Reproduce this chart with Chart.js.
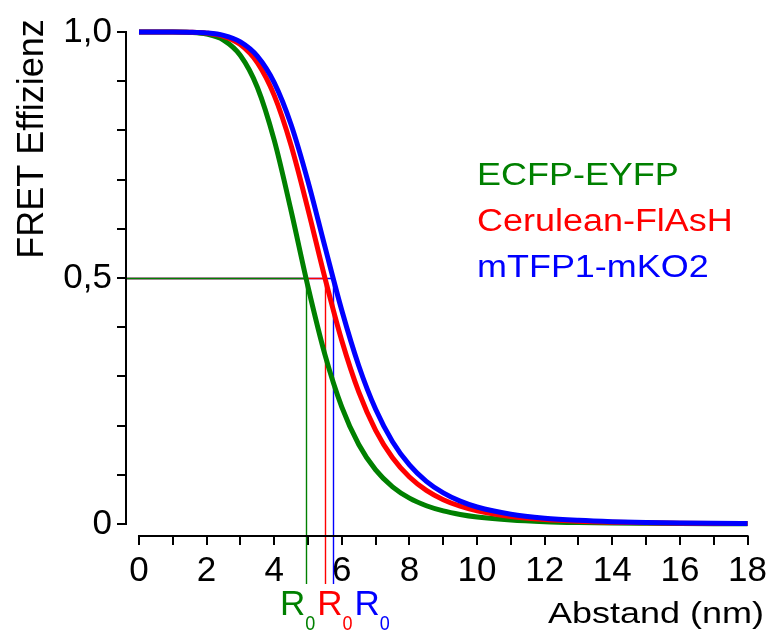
<!DOCTYPE html>
<html lang="de">
<head>
<meta charset="UTF-8" />
<title>FRET Effizienz</title>
<style>
  html, body { margin: 0; padding: 0; background: #fff; }
  canvas { display: block; }
</style>
</head>
<body>
<canvas id="fretChart" width="772" height="637"></canvas>

<script src="https://cdn.jsdelivr.net/npm/chart.js"></script>
<script>
  // Abstand in nm
  const distances = [0, 0.5, 1, 1.5, 2, 2.5, 3, 3.5, 4, 4.5, 5, 5.5, 6, 6.5, 7, 7.5, 8, 8.5, 9, 9.5, 10,
                     11, 12, 13, 14, 15, 16, 17, 18];

  // FRET efficiency
  const ecfpEyfp = [1, 1, 1, 0.9992, 0.9956, 0.9835, 0.9522, 0.8877, 0.7801, 0.6364, 0.4819, 0.3443,
                    0.2375, 0.1616, 0.1099, 0.0755, 0.0525, 0.0371, 0.0266, 0.0194, 0.0143,
                    0.0081, 0.0048, 0.0030, 0.0019, 0.0013, 0.0009, 0.0006, 0.0004];
  const ceruleanFlash = [1, 1, 1, 0.9996, 0.9977, 0.9913, 0.9743, 0.9377, 0.8711, 0.7693, 0.6392, 0.5,
                         0.3724, 0.2685, 0.1905, 0.1346, 0.0955, 0.0684, 0.0495, 0.0363, 0.0269,
                         0.0154, 0.0092, 0.0057, 0.0037, 0.0024, 0.0016, 0.0011, 0.0008];
  const mtfpMko2 = [1, 1, 1, 0.9997, 0.9982, 0.9932, 0.98, 0.9511, 0.8972, 0.8116, 0.696, 0.5637,
                    0.4339, 0.3217, 0.2331, 0.1673, 0.1201, 0.0866, 0.0631, 0.0464, 0.0345,
                    0.0198, 0.0118, 0.0074, 0.0047, 0.0031, 0.0021, 0.0015, 0.0011];

  const seriesNames = ['ECFP-EYFP', 'Cerulean-FlAsH', 'mTFP1-mKO2'];
  const seriesColors = ['#008000', '#ff0000', '#0000ff'];
  const r0Values = [4.94, 5.50, 5.74];

  const xTicks = [0, 1, 2, 3, 4, 5, 6, 7, 8, 9, 10, 11, 12, 13, 14, 15, 16, 17, 18];
  const xTickLabels = ['0', '', '2', '', '4', '', '6', '', '8', '', '10', '', '12', '', '14', '', '16', '', '18'];
  const yTicks = [0, 0.1, 0.2, 0.3, 0.4, 0.5, 0.6, 0.7, 0.8, 0.9, 1];
  const yTickLabels = ['0', '', '', '', '', '0,5', '', '', '', '', '1,0'];

  const FONT = "'Liberation Sans', Arial, Helvetica, sans-serif";

  function toPoints(ys) {
    return distances.map((d, i) => ({ x: d, y: ys[i] }));
  }

  // draws text, optionally stretched horizontally
  function drawText(ctx, text, x, y, size, color, align, sx) {
    ctx.save();
    ctx.translate(x, y);
    ctx.scale(sx || 1, 1);
    ctx.font = size + 'px ' + FONT;
    ctx.fillStyle = color;
    ctx.textAlign = align;
    ctx.textBaseline = 'alphabetic';
    ctx.fillText(text, 0, 0);
    ctx.restore();
  }

  const fretDecor = {
    id: 'fretDecor',
    beforeDatasetsDraw(chart) {
      const { ctx, chartArea, scales: { x, y } } = chart;
      const yHalf = Math.round(y.getPixelForValue(0.5)) + 0.5;
      const lineBottom = chartArea.bottom + 48;
      ctx.save();
      ctx.lineWidth = 1.4;
      for (let i = r0Values.length - 1; i >= 0; i--) {
        const px = Math.round(x.getPixelForValue(r0Values[i])) + 0.5;
        ctx.strokeStyle = seriesColors[i];
        ctx.beginPath();
        ctx.moveTo(chartArea.left, yHalf);
        ctx.lineTo(px, yHalf);
        ctx.lineTo(px, lineBottom);
        ctx.stroke();
      }
      ctx.restore();
    },
    afterDraw(chart) {
      const { ctx, chartArea, scales: { x, y } } = chart;
      ctx.save();
      // axis lines, offset like the original
      ctx.strokeStyle = '#000';
      ctx.lineWidth = 2;
      ctx.beginPath();
      ctx.moveTo(chartArea.left, y.getPixelForValue(1) - 1);
      ctx.lineTo(chartArea.left, y.getPixelForValue(0) + 1);
      ctx.moveTo(x.getPixelForValue(0) - 1, chartArea.bottom);
      ctx.lineTo(x.getPixelForValue(18) + 1, chartArea.bottom);
      ctx.stroke();

      // y title
      ctx.save();
      ctx.translate(43, 139);
      ctx.rotate(-Math.PI / 2);
      ctx.font = '36px ' + FONT;
      ctx.fillStyle = '#000';
      ctx.textAlign = 'center';
      ctx.fillText('FRET Effizienz', 0, 0);
      ctx.restore();

      // x title
      drawText(ctx, 'Abstand (nm)', 764, 623, 30, '#000', 'right', 1.2);

      // legend text
      const baselines = [185, 231, 277];
      seriesNames.forEach((name, i) => {
        drawText(ctx, name, 477, baselines[i], 31, seriesColors[i], 'left', 1.16);
      });

      // R0 labels under the axis
      let lx = 280;
      ctx.font = '35px ' + FONT;
      const rWidth = ctx.measureText('R').width;
      ctx.font = '20px ' + FONT;
      const subWidth = ctx.measureText('0').width * 0.9;
      seriesColors.forEach(col => {
        drawText(ctx, 'R', lx, 615, 35, col, 'left');
        drawText(ctx, '0', lx + rWidth, 630, 20, col, 'left', 0.9);
        lx += rWidth + subWidth + 2;
      });
      ctx.restore();
    }
  };

  const ctx = document.getElementById('fretChart').getContext('2d');
  new Chart(ctx, {
    type: 'line',
    data: {
      datasets: [ecfpEyfp, ceruleanFlash, mtfpMko2].map((ys, i) => ({
        label: seriesNames[i],
        data: toPoints(ys),
        borderColor: seriesColors[i],
        backgroundColor: seriesColors[i],
        borderWidth: 5,
        pointRadius: 0,
        cubicInterpolationMode: 'monotone',
        fill: false,
        clip: false,
        order: 3 - i
      }))
    },
    options: {
      responsive: false,
      animation: false,
      layout: { padding: { top: 32, right: 23, left: 0, bottom: 0 } },
      plugins: {
        legend: { display: false },
        tooltip: { enabled: false }
      },
      scales: {
        x: {
          type: 'linear',
          min: -0.384,
          max: 18,
          bounds: 'data',
          border: { display: false },
          grid: { drawOnChartArea: false, drawTicks: true, tickLength: 9, lineWidth: 2, color: '#000' },
          ticks: {
            autoSkip: false,
            maxRotation: 0,
            padding: 5,
            color: '#000',
            font: { family: FONT, size: 35 },
            callback: (v, i) => xTickLabels[i]
          },
          afterBuildTicks: s => { s.ticks = xTicks.map(v => ({ value: v })); },
          afterFit: s => { s.height = 101; }
        },
        y: {
          type: 'linear',
          min: -0.0244,
          max: 1,
          bounds: 'data',
          border: { display: false },
          grid: { drawOnChartArea: false, drawTicks: true, tickLength: 9, lineWidth: 2, color: '#000' },
          ticks: {
            autoSkip: false,
            padding: 5,
            color: '#000',
            font: { family: FONT, size: 35 },
            callback: (v, i) => yTickLabels[i]
          },
          afterBuildTicks: s => { s.ticks = yTicks.map(v => ({ value: v })); },
          afterFit: s => { s.width = 126; }
        }
      }
    },
    plugins: [fretDecor]
  });
</script>
</body>
</html>
